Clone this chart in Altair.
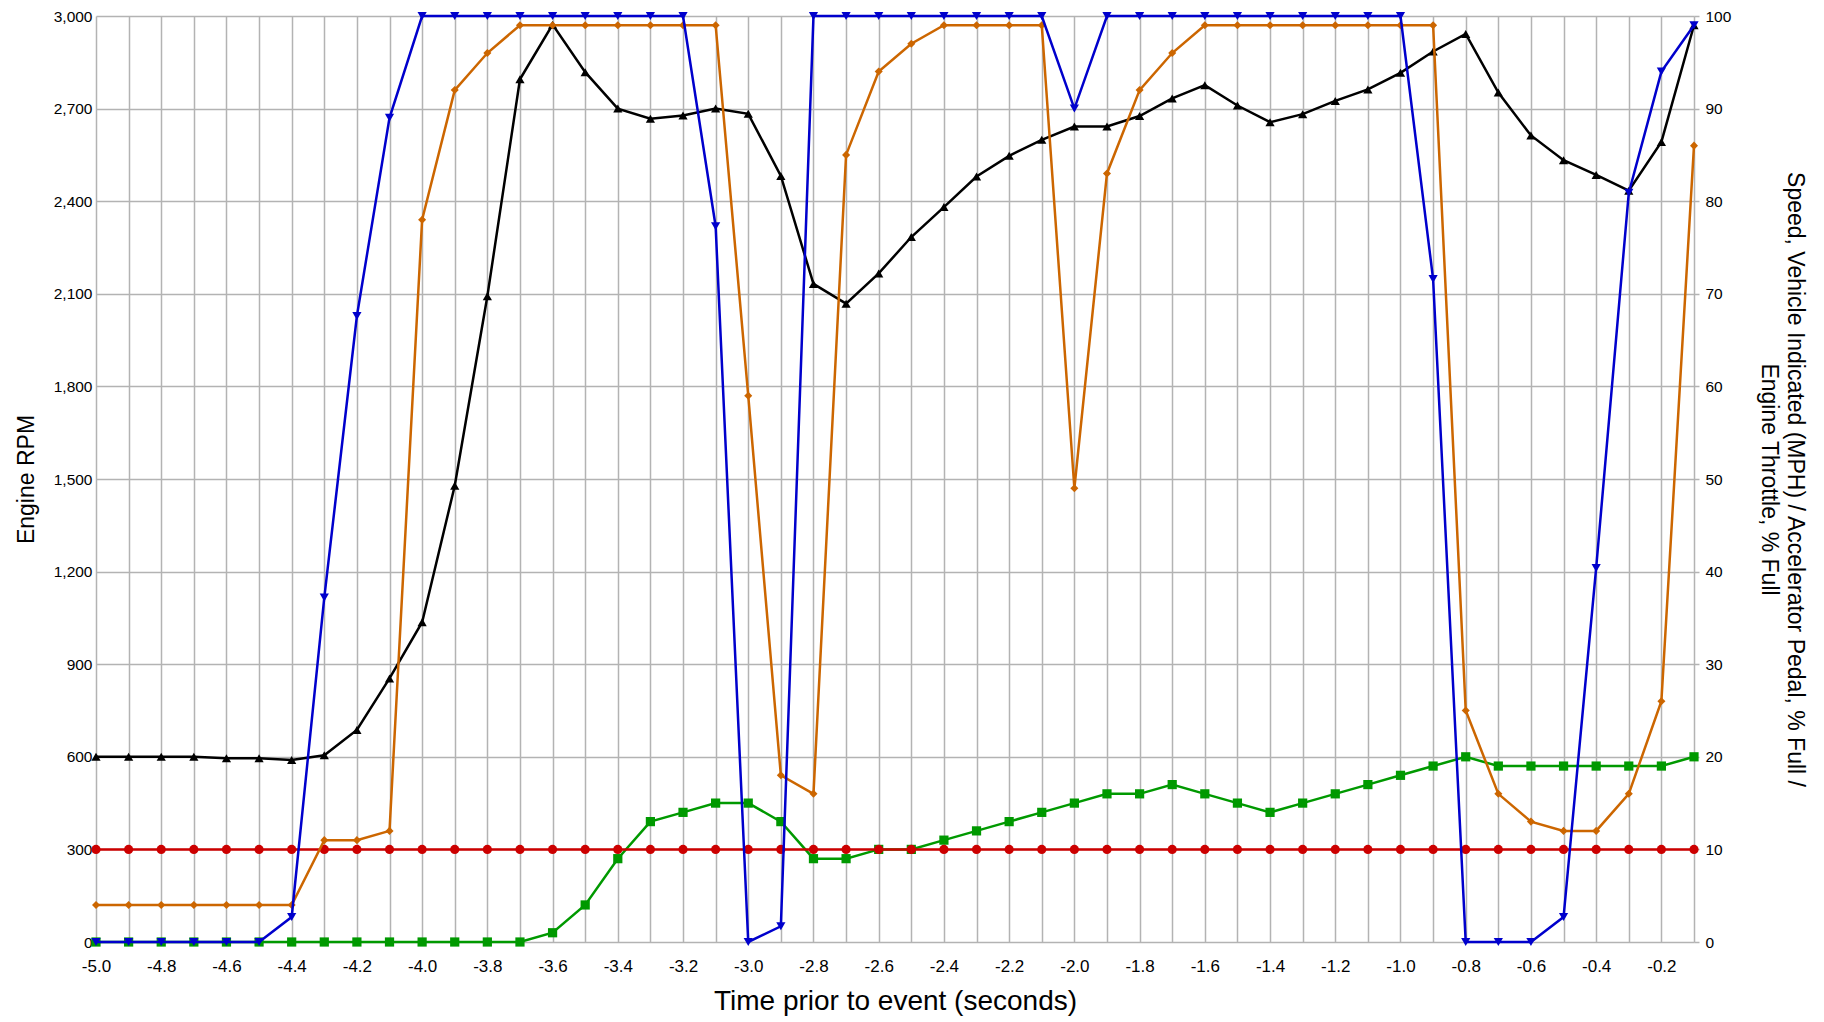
import altair as alt
import pandas as pd

# ---- data ----
time_s = [-5.0, -4.9, -4.8, -4.7, -4.6, -4.5, -4.4, -4.3, -4.2, -4.1,
          -4.0, -3.9, -3.8, -3.7, -3.6, -3.5, -3.4, -3.3, -3.2, -3.1,
          -3.0, -2.9, -2.8, -2.7, -2.6, -2.5, -2.4, -2.3, -2.2, -2.1,
          -2.0, -1.9, -1.8, -1.7, -1.6, -1.5, -1.4, -1.3, -1.2, -1.1,
          -1.0, -0.9, -0.8, -0.7, -0.6, -0.5, -0.4, -0.3, -0.2, -0.1]

engine_rpm = [600, 600, 600, 600, 595, 595, 590, 605, 687, 854,
              1036, 1478, 2092, 2795, 2972, 2818, 2700, 2667, 2678, 2700,
              2683, 2482, 2132, 2068, 2166, 2284, 2381, 2480, 2547, 2599,
              2642, 2642, 2676, 2733, 2776, 2710, 2656, 2682, 2725, 2762,
              2816, 2885, 2942, 2752, 2613, 2533, 2485, 2434, 2592, 2970]

accel_pedal = [0, 0, 0, 0, 0, 0, 2.7, 37.2, 67.6, 89,
               100, 100, 100, 100, 100, 100, 100, 100, 100, 77.3,
               0, 1.7, 100, 100, 100, 100, 100, 100, 100, 100,
               90, 100, 100, 100, 100, 100, 100, 100, 100, 100,
               100, 71.6, 0, 0, 0, 2.7, 40.4, 80.9, 94, 99]

engine_throttle = [4, 4, 4, 4, 4, 4, 4, 11, 11, 12,
                   78, 92, 96, 99, 99, 99, 99, 99, 99, 99,
                   59, 18, 16, 85, 94, 97, 99, 99, 99, 99,
                   49, 83, 92, 96, 99, 99, 99, 99, 99, 99,
                   99, 99, 25, 16, 13, 12, 12, 16, 26, 86]

speed_mph = [0, 0, 0, 0, 0, 0, 0, 0, 0, 0,
             0, 0, 0, 0, 1, 4, 9, 13, 14, 15,
             15, 13, 9, 9, 10, 10, 11, 12, 13, 14,
             15, 16, 16, 17, 16, 15, 14, 15, 16, 17,
             18, 19, 20, 19, 19, 19, 19, 19, 19, 20]

ref_level = [10, 10, 10, 10, 10, 10, 10, 10, 10, 10,
             10, 10, 10, 10, 10, 10, 10, 10, 10, 10,
             10, 10, 10, 10, 10, 10, 10, 10, 10, 10,
             10, 10, 10, 10, 10, 10, 10, 10, 10, 10,
             10, 10, 10, 10, 10, 10, 10, 10, 10, 10]

rpm_ticks = [0, 300, 600, 900, 1200, 1500, 1800, 2100, 2400, 2700, 3000]
pct_ticks = [0, 10, 20, 30, 40, 50, 60, 70, 80, 90, 100]

# (name, values, colour, marker) drawn in this order on the right axis
right_series = [
    ("Speed, Vehicle Indicated (MPH)", speed_mph, "#009900", "square"),
    ("Reference", ref_level, "#cc0000", "circle"),
    ("Engine Throttle, % Full", engine_throttle, "#cc6600", "diamond"),
    ("Accelerator Pedal, % Full", accel_pedal, "#0000cc", "triangle-down"),
]

FONT = "Liberation Sans"
GRID = "#b3b3b3"

x_enc = alt.X(
    "t:Q",
    scale=alt.Scale(domain=[-5.0, -0.1], nice=False, zero=False),
    axis=alt.Axis(
        values=time_s,
        labelExpr=("abs(round(datum.value*10)) % 2 == 0 ? "
                   "(datum.value < 0 ? '-' : '') + format(abs(datum.value), '.1f') : ''"),
        title="Time prior to event (seconds)",
        grid=True, gridColor=GRID, gridWidth=1.5,
        ticks=False, domain=False,
        labelFont=FONT, labelFontSize=17, labelColor="#000000", labelPadding=16,
        labelOverlap=False, labelFlush=False,
        titleFont=FONT, titleFontSize=28, titleFontWeight="normal",
        titleColor="#000000", titlePadding=13,
    ),
)

y_left = alt.Y(
    "rpm:Q",
    scale=alt.Scale(domain=[0, 3000], nice=False),
    axis=alt.Axis(
        orient="left", values=rpm_ticks, format=",d",
        title="Engine RPM",
        grid=True, gridColor=GRID, gridWidth=1.5,
        ticks=False, domain=False,
        labelFont=FONT, labelFontSize=15.5, labelColor="#000000", labelPadding=4,
        labelFlush=False,
        titleFont=FONT, titleFontSize=23, titleFontWeight="normal",
        titleColor="#000000", titlePadding=15,
    ),
)

y_right = alt.Y(
    "val:Q",
    scale=alt.Scale(domain=[0, 100], nice=False),
    axis=alt.Axis(
        orient="right", values=pct_ticks,
        title=["Speed, Vehicle Indicated (MPH) / Accelerator Pedal, % Full /",
               "Engine Throttle, % Full"],
        grid=False, ticks=True, tickSize=5, tickColor=GRID, tickWidth=1.5,
        domain=False,
        labelFont=FONT, labelFontSize=15.5, labelColor="#000000", labelPadding=6,
        labelFlush=False,
        titleFont=FONT, titleFontSize=23, titleFontWeight="normal",
        titleColor="#000000", titlePadding=26, titleLineHeight=26,
    ),
)

rpm_df = pd.DataFrame({"t": time_s, "rpm": engine_rpm})
left = alt.layer(
    alt.Chart(rpm_df).mark_line(color="#000000", strokeWidth=2.5).encode(x=x_enc, y=y_left),
    alt.Chart(rpm_df).mark_point(shape="triangle-up", filled=True, color="#000000",
                                 size=85, opacity=1).encode(x=x_enc, y=y_left),
)

right_layers = []
for name, vals, col, shp in right_series:
    df = pd.DataFrame({"t": time_s, "val": vals, "series": name})
    right_layers.append(
        alt.Chart(df).mark_line(color=col, strokeWidth=2.5).encode(x=x_enc, y=y_right)
    )
    right_layers.append(
        alt.Chart(df).mark_point(shape=shp, filled=True, color=col,
                                 size=85 if shp != "diamond" else 65,
                                 opacity=1).encode(x=x_enc, y=y_right)
    )
right = alt.layer(*right_layers)

chart = (
    alt.layer(left, right)
    .resolve_scale(y="independent")
    .properties(
        width=1598, height=926,
        autosize=alt.AutoSizeParams(type="none"),
        padding={"left": 88, "top": 8, "right": 120, "bottom": 76},
        background="#ffffff",
    )
    .configure_view(stroke=None)
)

chart.save("out.html", embed_options={"renderer": "svg", "actions": False})
